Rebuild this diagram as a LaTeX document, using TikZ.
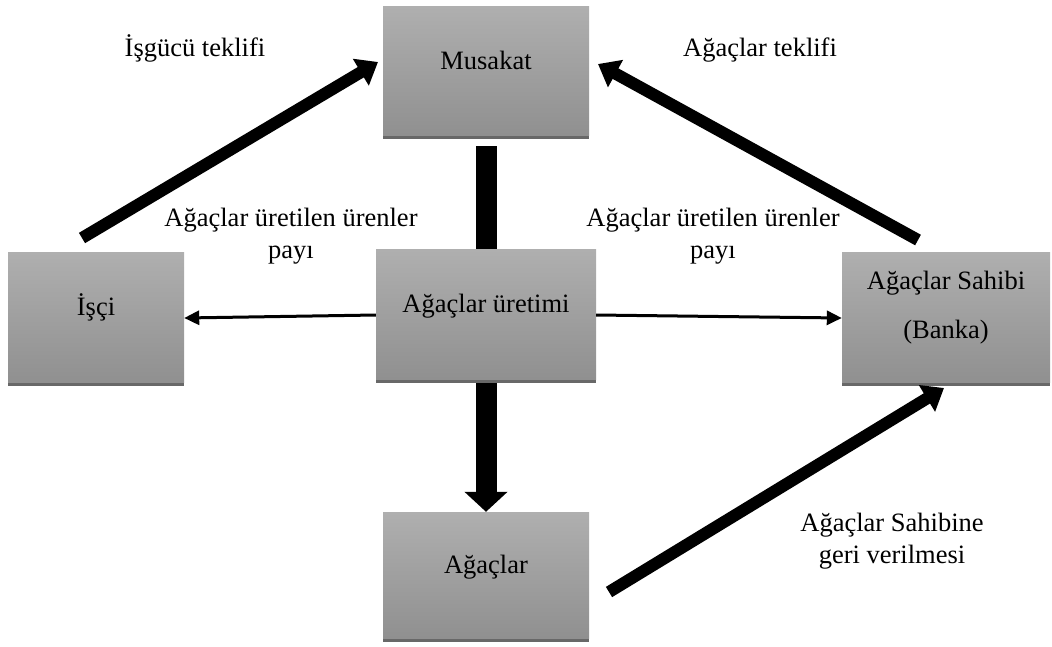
\documentclass[tikz,border=0pt]{standalone}
\usepackage{fontspec}
\setmainfont{Liberation Serif}
\usetikzlibrary{arrows.meta,calc}

\definecolor{boxtop}{RGB}{175,175,175}
\definecolor{boxbot}{RGB}{144,144,144}
\definecolor{boxshade}{RGB}{104,104,104}

\tikzset{
  box/.style={rectangle, inner sep=0pt, top color=boxtop, bottom color=boxbot,
    draw=none, text height=18pt, text depth=21pt,
    preaction={fill=boxshade, transform canvas={yshift=-4pt}}},
  lbl/.style={inner sep=0pt, align=center},
  heavy/.style={line width=12pt, -{Triangle[length=20pt,width=30pt]}},
  bar/.style={line width=21pt},
  bigdown/.style={line width=21pt, -{Triangle[length=20pt,width=42pt]}},
  thin/.style={line width=3pt, -{Triangle[length=15pt,width=14pt]}},
}

\begin{document}
\begin{tikzpicture}[x=1pt, y=-1pt, font=\fontsize{26.5}{32}\selectfont]
\useasboundingbox (0,0) rectangle (1052,646);

% boxes
\node[box, minimum width=206pt, minimum height=129pt] (musakat) at (486,70.5) {Musakat};
\node[box, minimum width=176pt, minimum height=130pt] (isci) at (96,317) {İşçi};
\node[box, minimum width=220pt, minimum height=130pt] (uretim) at (486,314) {Ağaçlar üretimi};
\node[box, minimum width=208pt, minimum height=130pt, align=center, text height=, text depth=]
  (sahibi) at (946,317) {Ağaçlar Sahibi\\[17pt](Banka)\rule[-25pt]{0pt}{25pt}};
\node[box, minimum width=206pt, minimum height=126pt] (agac) at (486,575) {Ağaçlar};

% labels
\node[lbl, anchor=base] (lisgucu) at (195,56) {İşgücü teklifi};
\node[lbl, anchor=base] (lteklif) at (760,56) {Ağaçlar teklifi};
\node[lbl] (lpayl) at (291,236) {Ağaçlar üretilen ürenler\\payı};
\node[lbl] (lpayr) at (713,236) {Ağaçlar üretilen ürenler\\payı};
\node[lbl] (lgeri) at (892,541) {Ağaçlar Sahibine\\geri verilmesi};

% free ends of the slanted arrows
\coordinate (t1) at (82,238);
\coordinate (h1) at (378,62);
\coordinate (t2) at (918,240);
\coordinate (h2) at (598,64);
\coordinate (t3) at (609,592);
\coordinate (h3) at (944,388);

% connectors
\draw[heavy] (t1) -- (h1);
\draw[heavy] (t2) -- (h2);
\draw[heavy] (t3) -- (h3);
\draw[bar] ([yshift=-11pt]musakat.south) -- (uretim.north);
\draw[bigdown] ([yshift=-4pt]uretim.south) -- (agac.north);
\draw[thin] ([yshift=-1pt]uretim.west) -- ([yshift=-1pt]isci.east);
\draw[thin] ([yshift=-1pt]uretim.east) -- ([yshift=-1pt]sahibi.west);
\end{tikzpicture}
\end{document}
